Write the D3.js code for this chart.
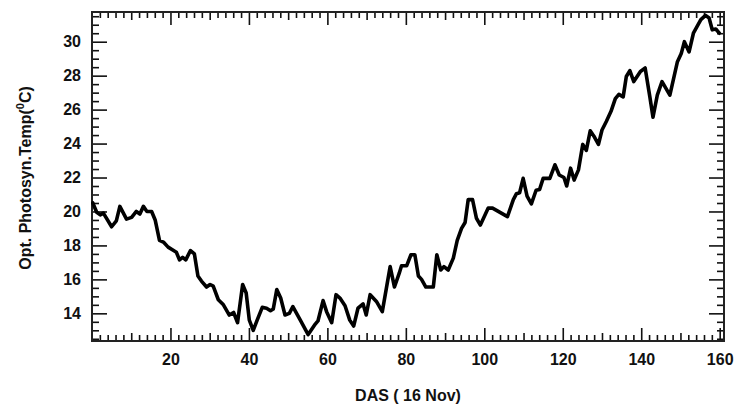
<!DOCTYPE html>
<html>
<head>
<meta charset="utf-8">
<script src="https://cdn.jsdelivr.net/npm/d3@7"></script>
<style>
  html, body { margin: 0; padding: 0; background: #fff; }
  svg { display: block; }
  text { font-family: "Liberation Sans", Arial, sans-serif; font-weight: bold; fill: #111; }
</style>
</head>
<body>
<svg id="chart" width="735" height="409"></svg>
<script>
// Days after sowing (x) and optimum photosynthesis temperature (y)
const days = [0.2, 1.2, 2.1, 2.9, 5.0, 6.2, 7.1, 8.8, 10.1, 11.3, 12.2, 13.1, 14.0, 15.2, 16.1, 17.2, 18.2, 19.4, 20.8, 21.5,
  22.3, 23.1, 23.9, 25.1, 26.1, 27.0, 27.9, 29.2, 30.1, 30.9, 32.2, 33.5, 35.0, 36.1, 37.1, 38.4, 39.3, 40.1, 41.1, 42.1,
  43.4, 44.5, 45.5, 46.2, 47.1, 48.1, 49.2, 50.3, 51.2, 53.1, 55.1, 56.7, 57.6, 58.9, 59.8, 61.1, 62.2, 63.2, 64.5, 65.7,
  66.7, 67.8, 69.1, 69.9, 70.9, 72.5, 74.0, 76.0, 77.1, 78.3, 78.9, 80.2, 81.3, 82.3, 83.2, 84.0, 85.1, 87.0, 87.9, 88.9,
  89.7, 90.8, 92.1, 93.1, 94.2, 95.1, 95.9, 97.0, 98.0, 99.0, 101.0, 102.1, 104.0, 105.9, 107.4, 108.2, 109.0, 109.9, 110.9, 112.0,
  113.2, 114.1, 115.0, 116.7, 118.0, 119.1, 120.3, 121.0, 122.0, 122.9, 124.0, 125.1, 126.0, 127.0, 127.9, 129.1, 130.0, 131.1, 132.3, 133.4,
  134.3, 135.4, 136.2, 137.1, 138.1, 139.8, 141.0, 142.2, 143.0, 144.1, 145.3, 147.3, 149.2, 150.2, 151.0, 152.2, 153.3, 155.2, 156.4, 157.3,
  158.1, 159.0, 159.9];
const optTemp = [20.5, 19.95, 19.8, 19.9, 19.1, 19.45, 20.3, 19.55, 19.65, 20.0, 19.85, 20.3, 20.0, 20.0, 19.5, 18.3, 18.2, 17.9, 17.7, 17.6,
  17.15, 17.3, 17.15, 17.7, 17.5, 16.2, 15.9, 15.55, 15.7, 15.6, 14.8, 14.5, 13.9, 14.05, 13.45, 15.7, 15.2, 13.6, 13.0, 13.6,
  14.35, 14.3, 14.15, 14.25, 15.4, 14.9, 13.9, 14.0, 14.4, 13.6, 12.75, 13.3, 13.55, 14.75, 14.1, 13.45, 15.1, 14.9, 14.45, 13.6,
  13.25, 14.3, 14.55, 13.9, 15.1, 14.7, 14.1, 16.75, 15.55, 16.35, 16.8, 16.8, 17.45, 17.45, 16.2, 16.0, 15.55, 15.55, 17.45, 16.55,
  16.75, 16.55, 17.25, 18.3, 19.0, 19.35, 20.7, 20.7, 19.6, 19.2, 20.2, 20.2, 19.95, 19.7, 20.7, 21.05, 21.1, 21.95, 20.9, 20.45,
  21.25, 21.3, 21.95, 21.95, 22.75, 22.15, 22.0, 21.5, 22.55, 21.85, 22.45, 23.95, 23.6, 24.75, 24.45, 23.95, 24.8, 25.3, 25.9, 26.65,
  26.9, 26.75, 27.95, 28.3, 27.65, 28.25, 28.45, 26.75, 25.55, 26.85, 27.65, 26.85, 28.8, 29.3, 30.0, 29.4, 30.5, 31.3, 31.55, 31.4,
  30.7, 30.75, 30.5];

const xTickLabels = [20, 40, 60, 80, 100, 120, 140, 160];
const yTickLabels = [14, 16, 18, 20, 22, 24, 26, 28, 30];
const xTitle = "DAS ( 16 Nov)";
const yTitleMain = "Opt. Photosyn.Temp(";
const yTitleSup = "0";
const yTitleEnd = "C)";

const svg = d3.select("#chart");
const L = 92, R = 724, T = 12, B = 341;

const x = d3.scaleLinear().domain([0, 161.1]).range([L, R]);
const y = d3.scaleLinear().domain([12.37, 31.75]).range([B, T]);

const g = svg.append("g");

// minor/medium/major tick values
const xMinor = d3.range(2, 161, 2).filter(v => v % 10 !== 0);
const xMedium = d3.range(10, 161, 20);
const yMinor = d3.range(12.5, 31.76, 0.5).filter(v => Math.abs(v % 2) > 1e-6);

function tickAxis(axisFn, scale, values, size) {
  return axisFn(scale).tickValues(values).tickSize(size).tickFormat("");
}

const tickStyle = sel => {
  sel.select(".domain").remove();
  sel.selectAll("line").attr("stroke", "#111").attr("stroke-width", 1.6);
};

// Bottom axis (ticks point inward/up)
g.append("g").attr("transform", `translate(0,${B})`).call(tickAxis(d3.axisTop, x, xMinor, 6)).call(tickStyle);
g.append("g").attr("transform", `translate(0,${B})`).call(tickAxis(d3.axisTop, x, xMedium, 8)).call(tickStyle);
g.append("g").attr("transform", `translate(0,${B})`).call(tickAxis(d3.axisTop, x, xTickLabels, 13)).call(tickStyle);
// Top axis (ticks point down)
g.append("g").attr("transform", `translate(0,${T})`).call(tickAxis(d3.axisBottom, x, xMinor, 6)).call(tickStyle);
g.append("g").attr("transform", `translate(0,${T})`).call(tickAxis(d3.axisBottom, x, xMedium, 8)).call(tickStyle);
g.append("g").attr("transform", `translate(0,${T})`).call(tickAxis(d3.axisBottom, x, xTickLabels, 13)).call(tickStyle);
// Left axis
g.append("g").attr("transform", `translate(${L},0)`).call(tickAxis(d3.axisRight, y, yMinor, 7)).call(tickStyle);
g.append("g").attr("transform", `translate(${L},0)`).call(tickAxis(d3.axisRight, y, yTickLabels, 15)).call(tickStyle);
// Right axis
g.append("g").attr("transform", `translate(${R},0)`).call(tickAxis(d3.axisLeft, y, yMinor, 7)).call(tickStyle);
g.append("g").attr("transform", `translate(${R},0)`).call(tickAxis(d3.axisLeft, y, yTickLabels, 15)).call(tickStyle);

// Tick labels
const xl = d3.axisBottom(x).tickValues(xTickLabels).tickSize(0).tickPadding(0).tickFormat(d3.format("d"));
const xlG = g.append("g").attr("transform", `translate(0,${B + 13})`).call(xl);
xlG.select(".domain").remove();
xlG.selectAll("text").attr("font-size", 16).attr("dy", "0.71em").attr("fill", "#111")
  .attr("font-family", "'Liberation Sans', Arial, sans-serif").attr("font-weight", "bold");

const yl = d3.axisLeft(y).tickValues(yTickLabels).tickSize(0).tickPadding(0).tickFormat(d3.format("d"));
const ylG = g.append("g").attr("transform", `translate(${L - 11},0)`).call(yl);
ylG.select(".domain").remove();
ylG.selectAll("text").attr("font-size", 16).attr("fill", "#111")
  .attr("font-family", "'Liberation Sans', Arial, sans-serif").attr("font-weight", "bold");

// Frame
g.append("rect").attr("x", L).attr("y", T).attr("width", R - L).attr("height", B - T)
  .attr("fill", "none").attr("stroke", "#222").attr("stroke-width", 2);

// Data line
const line = d3.line().x((d, i) => x(days[i])).y(d => y(d));
g.append("path").datum(optTemp).attr("d", line)
  .attr("fill", "none").attr("stroke", "#000").attr("stroke-width", 3.6)
  .attr("stroke-linejoin", "round").attr("stroke-linecap", "round");

// Axis titles
svg.append("text").attr("x", (L + R) / 2).attr("y", 397).attr("text-anchor", "middle")
  .attr("dominant-baseline", "middle").attr("font-size", 16).text(xTitle);

const yt = svg.append("text").attr("transform", "translate(31,178) rotate(-90)")
  .attr("text-anchor", "middle").attr("font-size", 16);
yt.append("tspan").text(yTitleMain);
yt.append("tspan").attr("font-size", 11).attr("dy", -7).text(yTitleSup);
yt.append("tspan").attr("dy", 7).text(yTitleEnd);
</script>
</body>
</html>
